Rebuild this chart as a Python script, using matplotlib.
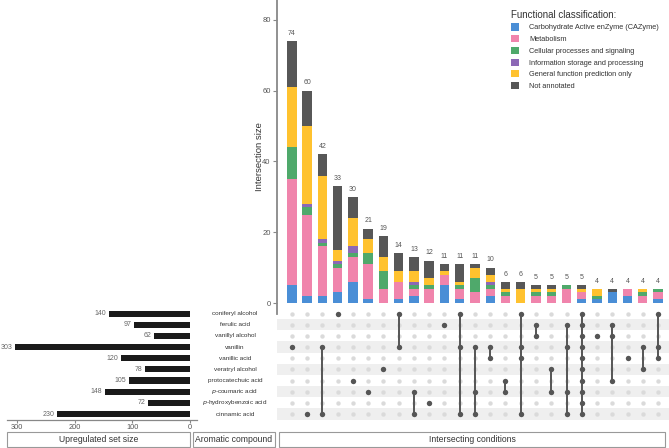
import numpy as np
import matplotlib.pyplot as plt
from matplotlib.patches import Patch, Rectangle

plt.rcParams['font.family'] = ['Liberation Sans', 'DejaVu Sans']

# ── Data ───────────────────────────────────────────────────────────────────────
sets = ["coniferyl alcohol", "ferulic acid", "vanillyl alcohol", "vanillin",
        "vanillic acid", "veratryl alcohol", "protocatechuic acid",
        r"$\it{p}$-coumaric acid", r"$\it{p}$-hydroxybenzoic acid", "cinnamic acid"]
set_sizes = [140, 97, 62, 303, 120, 78, 105, 148, 72, 230]

# set membership (row index) of each intersection column
members = [[3], [9], [3, 9], [0], [6], [7], [5], [0, 3], [7, 9], [8], [1],
           [0, 3, 9], [3, 7, 9], [3, 4], [6, 7], [0, 3, 4, 9], [1, 2], [5, 7],
           [1, 3, 7, 9], list(range(10)), [2], [1, 2, 6], [4], [3, 5], [0, 3, 4]]

categories = ["Carbohydrate Active enZyme (CAZyme)", "Metabolism",
              "Cellular processes and signaling", "Information storage and processing",
              "General function prediction only", "Not annotated"]
cazyme  = [5, 2, 2, 3, 6, 1, 0, 1, 2, 0, 5, 1, 0, 2, 0, 0, 0, 0, 0, 1, 1, 3, 2, 0, 1]
metab   = [30, 23, 14, 7, 7, 10, 4, 5, 2, 4, 3, 3, 3, 2, 2, 0, 2, 2, 4, 2, 0, 0, 2, 2, 2]
cellular = [9, 2, 1, 1, 1, 3, 5, 0, 1, 1, 0, 1, 4, 1, 1, 0, 1, 1, 1, 0, 1, 0, 0, 1, 1]
info    = [0, 1, 1, 1, 2, 0, 0, 0, 1, 0, 0, 0, 0, 1, 0, 0, 0, 0, 0, 0, 0, 0, 0, 0, 0]
general = [17, 22, 18, 3, 8, 4, 4, 3, 3, 2, 1, 1, 3, 2, 1, 4, 1, 1, 0, 1, 2, 0, 0, 1, 0]
not_ann = [13, 10, 6, 18, 6, 3, 6, 5, 4, 5, 2, 5, 1, 2, 2, 2, 1, 1, 0, 1, 0, 1, 0, 0, 0]

colors = ["#4A8ED6", "#F084AC", "#4FA96B", "#8C68B6", "#FFC22F", "#575757"]

W, H = 669, 448
fig = plt.figure(figsize=(W / 100, H / 100), dpi=100)


def box(x0, y0, x1, y1):
    # pixel box (top-left origin) -> figure fraction rect
    return [x0 / W, 1 - y1 / H, (x1 - x0) / W, (y1 - y0) / H]


n_col = len(members)
n_row = len(sets)
xl = (-0.98, 24.72)

# ── Intersection size bars ─────────────────────────────────────────────────────
ax_bar = fig.add_axes(box(277, 0, 669, 314))
ax_bar.patch.set_alpha(0)
x = np.arange(n_col)
bottom = np.zeros(n_col)
for vals, c in zip([cazyme, metab, cellular, info, general, not_ann], colors):
    ax_bar.bar(x, vals, bottom=bottom, width=0.62, color=c, linewidth=0)
    bottom += np.array(vals)
for xi, tot in zip(x, bottom):
    ax_bar.text(xi, tot + 1.2, f"{int(tot)}", ha="center", va="bottom",
                fontsize=5, color="#555555")
ax_bar.set_xlim(*xl)
ax_bar.set_ylim(-3.1, 85.6)
ax_bar.set_yticks([0, 20, 40, 60, 80])
ax_bar.tick_params(axis="y", labelsize=5.5, labelcolor="#555555", color="#888888",
                   length=3, width=0.8, pad=1.5)
ax_bar.set_xticks([])
for s in ["top", "right", "bottom"]:
    ax_bar.spines[s].set_visible(False)
ax_bar.spines["left"].set_color("#888888")
ax_bar.spines["left"].set_linewidth(1.3)
ax_bar.set_ylabel("Intersection size", fontsize=6.8, color="#333333", labelpad=-1)

handles = [Patch(facecolor=c, edgecolor="none") for c in colors]
leg = ax_bar.legend(handles, categories, title="Functional classification:",
                    loc="upper left", bbox_to_anchor=(0.58, 0.99), frameon=False,
                    fontsize=5.3, title_fontsize=7, handlelength=1.1,
                    handleheight=1.1, handletextpad=1.4, labelspacing=0.5,
                    alignment="left")
for t in leg.get_texts():
    t.set_color("#333333")
leg.get_title().set_color("#333333")

# ── Matrix ─────────────────────────────────────────────────────────────────────
ax_m = fig.add_axes(box(277, 308, 669, 419.6))
ax_m.set_xlim(*xl)
ax_m.set_ylim(n_row - 0.5, -0.5)
for r in range(1, n_row, 2):
    ax_m.axhspan(r - 0.5, r + 0.5, color="#EFEFEF", lw=0, zorder=0)
for ci, mem in enumerate(members):
    ax_m.scatter([ci] * n_row, range(n_row), s=10, color="#DADADA", lw=0, zorder=1)
    if len(mem) > 1:
        ax_m.plot([ci, ci], [min(mem), max(mem)], color="#555555", lw=1.4, zorder=2)
    ax_m.scatter([ci] * len(mem), mem, s=15, color="#555555", lw=0, zorder=3)
ax_m.axis("off")

# ── Set names ──────────────────────────────────────────────────────────────────
ax_n = fig.add_axes(box(193, 308, 277, 419.6))
ax_n.set_ylim(n_row - 0.5, -0.5)
ax_n.set_xlim(0, 1)
for r, name in enumerate(sets):
    ax_n.text(0.5, r, name, ha="center", va="center", fontsize=4.6, color="#333333")
ax_n.axis("off")

# ── Set sizes ──────────────────────────────────────────────────────────────────
ax_s = fig.add_axes(box(7, 308, 197, 419.6))
ax_s.barh(range(n_row), set_sizes, height=0.55, color="#1A1A1A", lw=0)
for r, v in enumerate(set_sizes):
    ax_s.text(v + 5, r, str(v), ha="right", va="center", fontsize=5, color="#666666")
ax_s.set_xlim(317.3, -12.1)
ax_s.set_ylim(n_row - 0.5, -0.5)
ax_s.set_xticks([300, 200, 100, 0])
ax_s.set_yticks([])
ax_s.tick_params(axis="x", labelsize=5.3, labelcolor="#555555", color="#888888",
                 length=2.5, width=0.8, pad=1)
for s in ["top", "right", "left"]:
    ax_s.spines[s].set_visible(False)
ax_s.spines["bottom"].set_color("#888888")
ax_s.spines["bottom"].set_linewidth(0.9)

# ── Panel captions ─────────────────────────────────────────────────────────────
for (x0, x1), label in [((7, 190), "Upregulated set size"),
                        ((193, 275), "Aromatic compound"),
                        ((279, 665), "Intersecting conditions")]:
    r = box(x0, 432, x1, 447)
    fig.patches.append(Rectangle((r[0], r[1]), r[2], r[3], transform=fig.transFigure,
                                 fill=False, edgecolor="#999999", lw=0.8))
    fig.text(r[0] + r[2] / 2, r[1] + r[3] / 2, label, ha="center", va="center",
             fontsize=6.2, color="#333333")

fig.savefig("out.png", dpi=100)
